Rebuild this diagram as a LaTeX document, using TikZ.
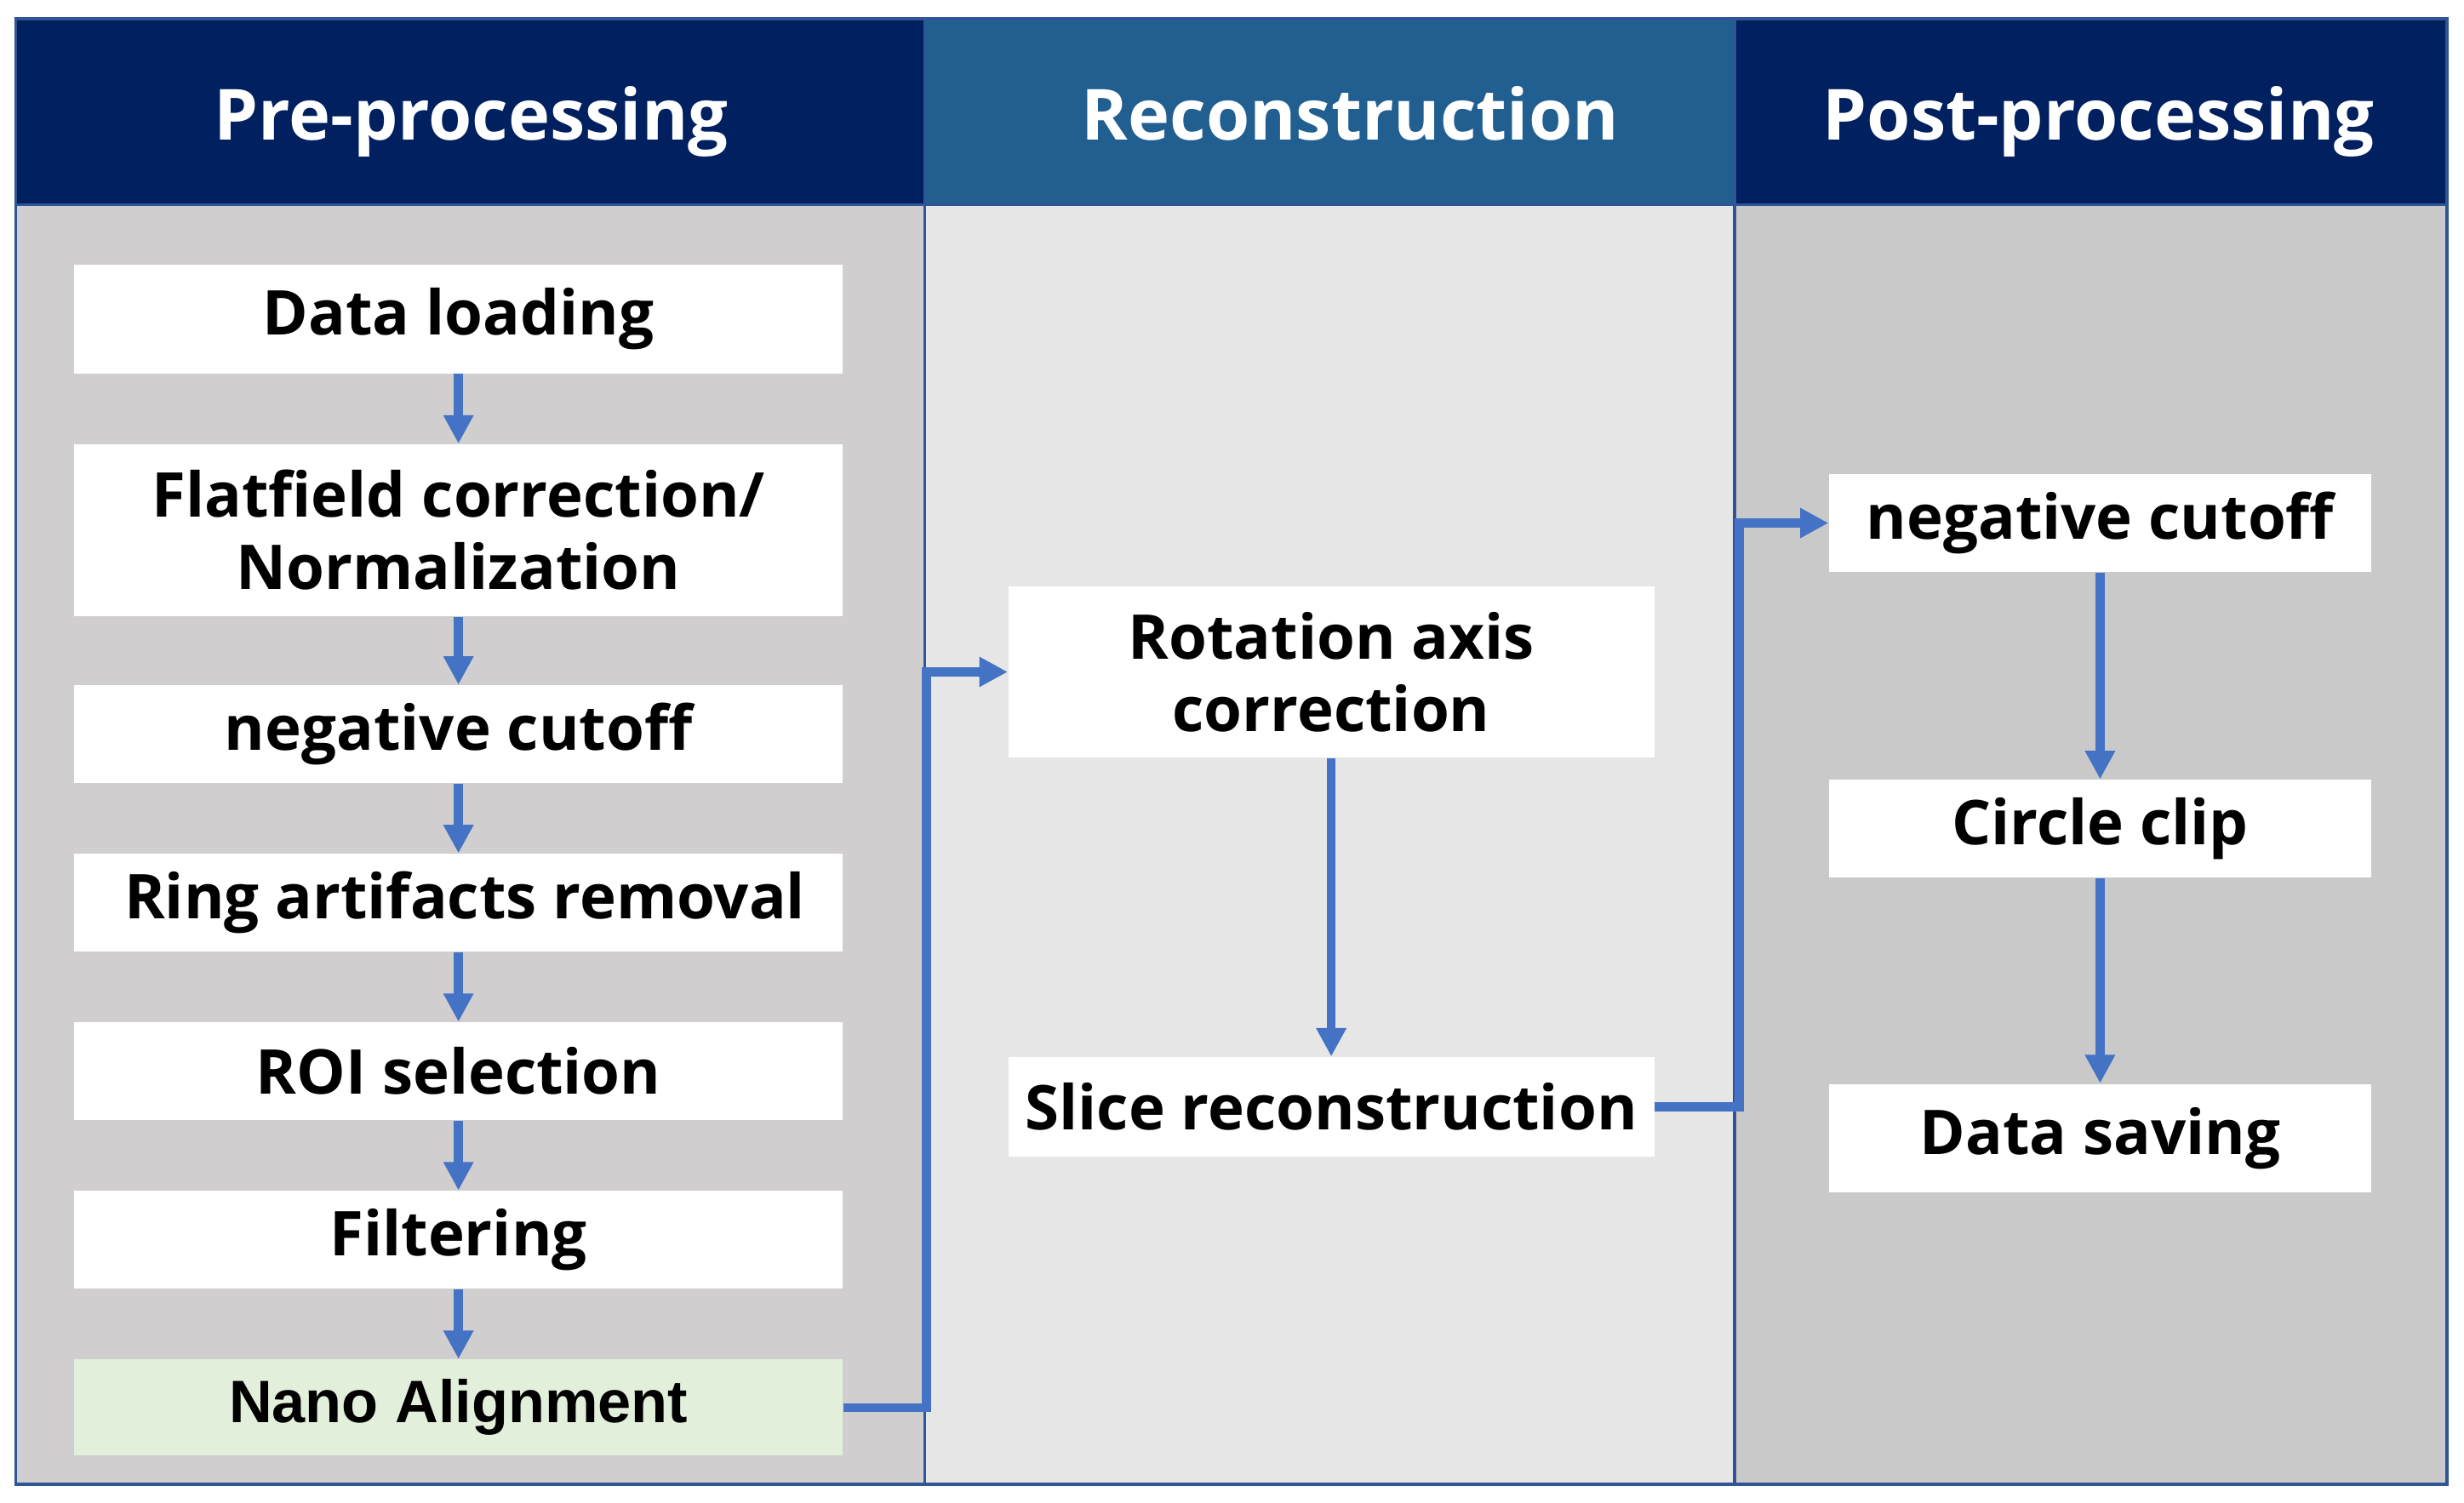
\documentclass[tikz,border=0pt]{standalone}
\usepackage{fontspec}
\setmainfont{Open Sans}
\newfontfamily\arialfont{Liberation Sans}
\usetikzlibrary{arrows.meta}
\definecolor{headnavy}{RGB}{0,32,96}
\definecolor{headblue}{RGB}{33,95,145}
\definecolor{frameblue}{RGB}{47,85,151}
\definecolor{flowblue}{RGB}{68,114,196}
\definecolor{preback}{RGB}{208,206,206}
\definecolor{recback}{RGB}{230,230,230}
\definecolor{postback}{RGB}{201,201,201}
\definecolor{nanogreen}{RGB}{226,239,218}
\begin{document}
\begin{tikzpicture}[x=0.5pt,y=-0.5pt,
  stepbox/.style={fill=white,inner sep=0pt,align=center,
    font=\fontsize{19.6}{23}\selectfont\bfseries},
  headtext/.style={anchor=base,text=white,font=\fontsize{22.4}{27}\selectfont\bfseries},
  flow/.style={draw=flowblue,line width=2.8pt,-{Triangle[length=9pt,width=9pt]}}]
\useasboundingbox (0,0) rectangle (1564,954);
\fill[white] (0,0) rectangle (1564,954);

% columns
\fill[preback] (10,130) rectangle (587,942);
\fill[recback] (587,130) rectangle (1101,942);
\fill[postback] (1101,130) rectangle (1553,942);
\fill[headnavy] (10,12) rectangle (587,130);
\fill[headblue] (587,12) rectangle (1101,130);
\fill[headnavy] (1101,12) rectangle (1553,130);
\draw[frameblue,line width=1pt] (10,12) rectangle (1553,942);
\draw[frameblue,line width=1pt] (10,130) -- (1553,130);
\draw[frameblue,line width=1pt] (587,12) -- (587,942);
\draw[frameblue,line width=1pt] (1101,12) -- (1101,942);

\node[headtext] (prehead) at (299,89) {Pre-processing};
\node[headtext] (rechead) at (857,89) {Reconstruction};
\node[headtext] (posthead) at (1332,89) {Post-processing};

% pre-processing
\node[stepbox,minimum width=244pt,minimum height=34.5pt] (load) at (291,202.5) {Data loading};
\node[stepbox,minimum width=244pt,minimum height=54.5pt] (flat) at (291,336.5) {Flatfield correction/\\Normalization};
\node[stepbox,minimum width=244pt,minimum height=31pt] (negpre) at (291,466) {negative cutoff};
\node[stepbox,minimum width=244pt,minimum height=31pt] (ring) at (291,573) {\hspace*{4pt}Ring artifacts removal};
\node[stepbox,minimum width=244pt,minimum height=31pt] (roi) at (291,680) {ROI selection};
\node[stepbox,minimum width=244pt,minimum height=31pt] (filt) at (291,787) {Filtering};
\node[stepbox,fill=nanogreen,minimum width=244pt,minimum height=30.5pt,
  font=\arialfont\fontsize{19}{22}\selectfont\bfseries] (nano) at (291,893.5) {Nano Alignment};

% reconstruction
\node[stepbox,minimum width=205pt,minimum height=54.5pt] (rot) at (845,426.5) {Rotation axis\\correction};
\node[stepbox,minimum width=205pt,minimum height=31.5pt] (slice) at (845,702.5) {Slice reconstruction};

% post-processing
\node[stepbox,minimum width=172pt,minimum height=31pt] (negpost) at (1333,332) {negative cutoff};
\node[stepbox,minimum width=172pt,minimum height=31pt] (clip) at (1333,526) {Circle clip};
\node[stepbox,minimum width=172pt,minimum height=34.5pt] (save) at (1333,722.5) {Data saving};

\coordinate (bendrec) at (588,426.5);
\coordinate (bendpost) at (1104,332);

\draw[flow] (load) -- (flat);
\draw[flow] (flat) -- (negpre);
\draw[flow] (negpre) -- (ring);
\draw[flow] (ring) -- (roi);
\draw[flow] (roi) -- (filt);
\draw[flow] (filt) -- (nano);
\draw[flow] (nano.east) -| (bendrec) -- (rot.west);
\draw[flow] (rot) -- (slice);
\draw[flow] (slice.east) -| (bendpost) -- (negpost.west);
\draw[flow] (negpost) -- (clip);
\draw[flow] (clip) -- (save);
\end{tikzpicture}
\end{document}
